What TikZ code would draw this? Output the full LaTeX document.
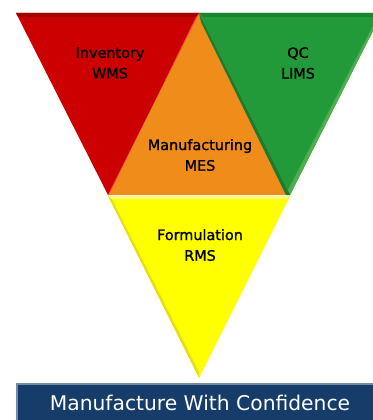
\documentclass[tikz,border=0pt]{standalone}
\usepackage{fontspec}
\setmainfont{DejaVu Sans}
\newfontfamily\lblfont[FakeBold=1.2]{DejaVu Sans}
\begin{document}
\begin{tikzpicture}[x=0.75pt,y=-0.75pt,
  lbl/.style={font=\lblfont\fontsize{10.8}{15.5}\selectfont, text=black, align=center, inner sep=0pt},
  tri/.style={line join=miter}]
\definecolor{cred}{HTML}{CC0000}
\definecolor{cgreen}{HTML}{229A3A}
\definecolor{corange}{HTML}{F08C1A}
\definecolor{cyellow}{HTML}{FFFF00}
\definecolor{cblue}{HTML}{163D6A}
\useasboundingbox (0,0) rectangle (373,420);
\begin{scope}
\clip (0,0) rectangle (373,420);
% orange
\fill[corange, tri] (199,13) -- (290,195) -- (108,195) -- cycle;
% red
\fill[cred, tri] (16,13) -- (199,13) -- (108,195) -- cycle;
\fill[red!70!white] (199,13) -- (108,195) -- (111,191) -- (196,17) -- cycle;
\fill[cred!80!black] (16,13) -- (199,13) -- (196,17) -- (18,17) -- cycle;
% green
\fill[cgreen, tri] (199,13) -- (382,13) -- (290,195) -- cycle;
\fill[green!55!black!70!white] (382,13) -- (290,195) -- (288,190) -- (378,16) -- cycle;
\fill[cgreen!85!black] (199,13) -- (382,13) -- (378,17) -- (203,17) -- cycle;
\fill[cgreen!80!black] (199,13) -- (290,195) -- (286,195) -- (201,22) -- cycle;
% yellow
\fill[cyellow, tri] (108,196) -- (290,196) -- (199,378) -- cycle;
\fill[yellow!90!black] (108,196) -- (199,378) -- (199,372) -- (112,199) -- cycle;
\fill[yellow!50!white] (108,196) -- (290,196) -- (286,199) -- (112,199) -- cycle;
% bottom banner
\fill[cblue] (16,383) rectangle (390,420);
\fill[cblue!60!white] (16,383) rectangle (390,385);
\fill[cblue!60!white] (16,383) rectangle (18,420);
\end{scope}
\node[lbl] (inv) at (110,63) {Inventory\\WMS};
\node[lbl] (qc) at (298,63) {QC\\LIMS};
\node[lbl] (mes) at (200,155) {Manufacturing\\MES};
\node[lbl] (rms) at (200,245) {Formulation\\RMS};
\node[font=\fontsize{15.2}{17}\selectfont, text=white, inner sep=0pt] (banner) at (200,403) {Manufacture With Confidence};
\end{tikzpicture}
\end{document}
